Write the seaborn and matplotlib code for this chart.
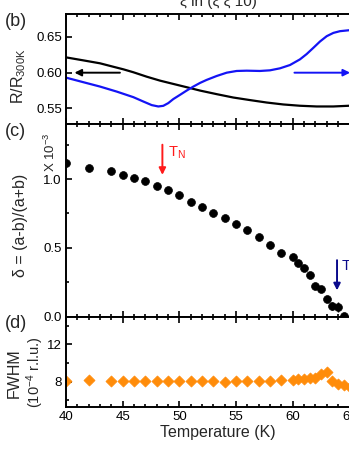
import numpy as np
import pandas as pd
import matplotlib
matplotlib.use("Agg")
import matplotlib.pyplot as plt
import seaborn as sns
from matplotlib.ticker import MultipleLocator, FormatStrFormatter

# ---------------- data ----------------
# panel (b): resistance (black, left axis)
T_res = [40, 41.53, 43.0, 44.17, 45.06, 45.94, 47.12, 48.29, 49.46, 50.64, 51.82, 53.29,
         54.75, 56.23, 57.7, 59.16, 60.63, 62.1, 63.57, 64.96]
R_res = [0.6214, 0.6172, 0.6131, 0.6083, 0.6047, 0.6006, 0.5944, 0.5889, 0.5843, 0.5797,
         0.575, 0.57, 0.5653, 0.5617, 0.5583, 0.5556, 0.5538, 0.5528, 0.5528, 0.5538]
# blue curve (right axis, drawn in left-axis units)
T_blue = [40, 41.53, 43.0, 44.47, 45.94, 46.82, 47.56, 48.14, 48.58, 49.02, 49.46, 50.05,
          50.64, 51.23, 51.82, 52.4, 53.29, 54.17, 55.05, 55.93, 57.1, 57.99, 58.87, 59.75,
          60.63, 61.22, 61.81, 62.4, 62.99, 63.58, 64.16, 64.96]
R_blue = [0.5931, 0.5867, 0.5806, 0.5736, 0.5658, 0.5597, 0.5547, 0.5528, 0.5537, 0.5575,
          0.5631, 0.5690, 0.5750, 0.5806, 0.5857, 0.5899, 0.5954, 0.6, 0.6024, 0.6028,
          0.6024, 0.6033, 0.6061, 0.6107, 0.6186, 0.626, 0.6347, 0.6436, 0.651, 0.6556,
          0.658, 0.6593]

# panel (c): orthorhombic distortion (x 10^-3)
T_delta = [40, 42, 44, 45, 46, 47, 48, 49, 50, 51, 52, 53, 54, 55, 56, 57, 58, 59, 60, 60.5,
           61, 61.5, 62, 62.5, 63, 63.5, 64, 64.5]
delta = [1.12, 1.08, 1.055, 1.03, 1.005, 0.983, 0.951, 0.92, 0.881, 0.835, 0.80, 0.754, 0.718,
         0.67, 0.628, 0.579, 0.523, 0.465, 0.433, 0.387, 0.35, 0.30, 0.219, 0.197, 0.124,
         0.075, 0.068, 0.005]
delta_err = [0] * 25 + [0.03, 0.035, 0.0]

# panel (d): FWHM (10^-4 r.l.u.)
T_fwhm = [40, 42, 44, 45, 46, 47, 48, 49, 50, 51, 52, 53, 54, 55, 56, 57, 58, 59, 60, 60.5,
          61, 61.5, 62, 62.5, 63, 63.5, 64, 64.5, 65]
fwhm = [8.1, 8.15, 8.1, 8.07, 8.07, 8.07, 8.07, 8.1, 8.1, 8.1, 8.1, 8.05, 8.0, 8.1, 8.07, 8.1,
        8.14, 8.2, 8.2, 8.25, 8.25, 8.36, 8.43, 8.83, 9.07, 8.1, 7.75, 7.64, 7.46]

title_text = "ξ in (ξ ξ 10)"

# ---------------- style ----------------
sns.set_theme(style="ticks")
plt.rcParams["font.family"] = ["Liberation Sans", "DejaVu Sans"]
plt.rcParams["mathtext.fontset"] = "custom"
plt.rcParams["mathtext.rm"] = "Liberation Sans"
plt.rcParams["mathtext.it"] = "Liberation Sans"
plt.rcParams["axes.linewidth"] = 1.4

FW, FH = 349, 451
fig = plt.figure(figsize=(FW / 100, FH / 100), dpi=100)
L = 66 / FW
W = 304 / FW          # axes extend past the right edge of the (cropped) picture
XMAX = 40 + 304 / 11.34

def ypos(top, bot):
    return 1 - bot / FH, (bot - top) / FH

yb, hb = ypos(14, 123.5)
yc, hc = ypos(123.5, 316.5)
yd, hd = ypos(316.5, 407)
axb = fig.add_axes([L, yb, W, hb])
axc = fig.add_axes([L, yc, W, hc])
axd = fig.add_axes([L, yd, W, hd])

for ax in (axb, axc, axd):
    ax.set_xlim(40, XMAX)
    ax.xaxis.set_major_locator(MultipleLocator(5))
    ax.xaxis.set_minor_locator(MultipleLocator(1))
    ax.tick_params(which="both", direction="in", top=True, bottom=True, left=True, right=True,
                   labelsize=9.5, width=1.2, colors="black", pad=3)
    ax.tick_params(which="major", length=4.5)
    ax.tick_params(which="minor", length=2.5)
    for s in ax.spines.values():
        s.set_linewidth(1.4)
        s.set_color("black")
    ax.set_facecolor("white")
    ax.set_ylabel("")

# ---- panel b ----
df_r = pd.DataFrame({"T": T_res, "R": R_res})
df_b = pd.DataFrame({"T": T_blue, "R": R_blue})
sns.lineplot(data=df_r, x="T", y="R", ax=axb, color="black", lw=1.6)
sns.lineplot(data=df_b, x="T", y="R", ax=axb, color="#1414f5", lw=1.6)
axb.set_ylim(0.529, 0.682)
axb.yaxis.set_major_locator(MultipleLocator(0.05))
axb.yaxis.set_major_formatter(FormatStrFormatter("%.2f"))
axb.tick_params(axis="y", which="minor", left=False, right=False)
axb.set_xticklabels([])
axb.set_xlabel("")
axb.set_ylabel("")
axb.annotate("", xy=(40.5, 0.600), xytext=(45.0, 0.600),
             arrowprops=dict(arrowstyle="-|>", color="black", lw=1.4, mutation_scale=10))
axb.annotate("", xy=(65.3, 0.600), xytext=(59.9, 0.600),
             arrowprops=dict(arrowstyle="-|>", color="#1414f5", lw=1.4, mutation_scale=10))

# ---- panel c ----
df_c = pd.DataFrame({"T": T_delta, "d": delta})
axc.errorbar(T_delta, delta, yerr=delta_err, fmt="none", ecolor="black", elinewidth=1.0, capsize=0)
sns.scatterplot(data=df_c, x="T", y="d", ax=axc, color="black", s=32, edgecolor="black", linewidth=0.5)
axc.set_ylim(0, 1.404)
axc.yaxis.set_major_locator(MultipleLocator(0.5))
axc.yaxis.set_minor_locator(MultipleLocator(0.25))
axc.yaxis.set_major_formatter(FormatStrFormatter("%.1f"))
axc.set_xticklabels([])
axc.set_xlabel("")
axc.set_ylabel("")
axc.annotate("", xy=(48.5, 1.01), xytext=(48.5, 1.27),
             arrowprops=dict(arrowstyle="-|>", color="#ff1a1a", lw=1.4, mutation_scale=10))
axc.text(49.0, 1.16, r"T$_{\mathregular{N}}$", color="#ff1a1a", fontsize=10.5)
axc.annotate("", xy=(63.9, 0.17), xytext=(63.9, 0.43),
             arrowprops=dict(arrowstyle="-|>", color="#0a0a8c", lw=1.4, mutation_scale=10))
axc.text(64.3, 0.34, "T", color="#0a0a8c", fontsize=10.5)

# ---- panel d ----
df_d = pd.DataFrame({"T": T_fwhm, "f": fwhm})
sns.scatterplot(data=df_d, x="T", y="f", ax=axd, color="#ff8c0a", marker="D", s=32,
                edgecolor="#ff8c0a", linewidth=0.5)
axd.set_ylim(5.3, 15)
axd.yaxis.set_major_locator(MultipleLocator(4))
axd.yaxis.set_minor_locator(MultipleLocator(2))
axd.set_xlabel("Temperature (K)", fontsize=11.5, labelpad=1)
axd.set_ylabel("")

# ---- y labels, panel labels and title (absolute positions in pixels) ----
def ftext(x, y, s, **kw):
    fig.text(x / FW, 1 - y / FH, s, **kw)

ftext(19, 76, r"R/R$_{\mathregular{300K}}$", rotation=90, ha="center", va="center", fontsize=11.5)
ftext(21, 225, "δ = (a-b)/(a+b)", rotation=90, ha="center", va="center", fontsize=11.5)
ftext(50, 152, r"X 10$^{\mathregular{-3}}$", rotation=90, ha="center", va="center", fontsize=9.5)
ftext(14, 373, "FWHM", rotation=90, ha="center", va="center", fontsize=11.5)
ftext(35, 372, r"(10$^{\mathregular{-4}}$ r.l.u.)", rotation=90, ha="center", va="center", fontsize=10.5)

ftext(16, 21, "(b)", ha="center", va="center", fontsize=13)
ftext(15, 131, "(c)", ha="center", va="center", fontsize=13)
ftext(16, 323, "(d)", ha="center", va="center", fontsize=13)
ftext(218, 9, title_text, ha="center", va="bottom", fontsize=11)

fig.savefig("out.png", dpi=100, facecolor="white")
